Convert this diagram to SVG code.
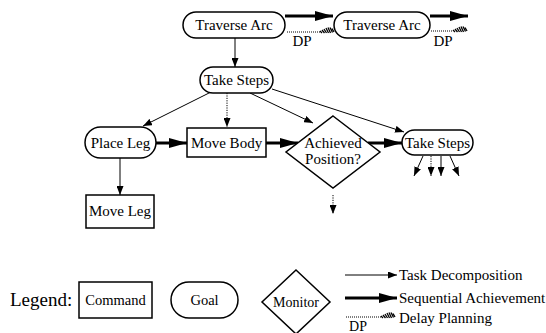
<svg xmlns="http://www.w3.org/2000/svg" width="546" height="333" viewBox="0 0 546 333">
<style>
.box{fill:#fff;stroke:#000;stroke-width:1.5}
.t{font-family:"Liberation Serif","Times New Roman",serif;font-size:15px;fill:#000;text-anchor:middle}
.ts{font-family:"Liberation Serif","Times New Roman",serif;font-size:15px;fill:#000}
.thin{stroke:#000;stroke-width:1;fill:none;marker-end:url(#ah)}
.dot{stroke:#000;stroke-width:1;fill:none;stroke-dasharray:1.2 1.2;marker-end:url(#ah)}
.thick{stroke:#000;stroke-width:3;fill:none;marker-end:url(#ahb)}
.dp{stroke:#000;stroke-width:1.2;fill:none;stroke-dasharray:1 1}
.hatch{stroke:#000;stroke-width:1.3;fill:none}
</style>
<defs>
<marker id="ah" markerUnits="userSpaceOnUse" markerWidth="9" markerHeight="7" refX="9" refY="3.5" orient="auto"><path d="M0,0 L9,3.5 L0,7 z" fill="#000"/></marker>
<marker id="ahb" markerUnits="userSpaceOnUse" markerWidth="18" markerHeight="10" refX="18" refY="5" orient="auto"><path d="M0,0 L18,5 L0,10 z" fill="#000"/></marker>
<g id="hat">
<path class="hatch" d="M0,-1 L2,1 M2,-2 L4.5,1 M4,-3 L6.5,1 M6,-4 L8.5,1 M8,-4.5 L10.5,1 M10,-4.5 L12.5,0.5 M12,-3.5 L14,0"/>
</g>
</defs>

<g id="connectors">
<line class="thick" x1="285" y1="16" x2="333" y2="16"/>
<line class="dp" x1="287" y1="32" x2="320" y2="32"/>
<use href="#hat" x="320" y="32"/>
<line class="thick" x1="430" y1="16" x2="468" y2="16"/>
<line class="dp" x1="431" y1="31" x2="453" y2="31"/>
<use href="#hat" x="453" y="31"/>
<line class="thin" x1="235" y1="38" x2="235" y2="67"/>
<line class="thin" x1="213" y1="91" x2="143" y2="126"/>
<line class="dot" x1="227" y1="93" x2="227" y2="127"/>
<line class="thin" x1="250" y1="93" x2="313" y2="123"/>
<line class="thin" x1="272" y1="89" x2="404" y2="132"/>
<line class="thick" x1="156" y1="143" x2="187" y2="143"/>
<line class="thick" x1="266" y1="143" x2="298" y2="143"/>
<line class="thick" x1="368" y1="143" x2="402" y2="143"/>
<line class="thin" x1="120" y1="158" x2="120" y2="195"/>
<line class="dot" x1="333" y1="195" x2="333" y2="214"/>
<line class="thin" x1="423" y1="156" x2="414" y2="176"/>
<line class="dot" x1="431" y1="156" x2="431" y2="176"/>
<line class="thin" x1="441" y1="156" x2="441" y2="176"/>
<line class="thin" x1="450" y1="156" x2="459" y2="176"/>
</g>
<text class="t" x="302" y="46">DP</text>
<text class="t" x="443" y="46">DP</text>

<g id="traverse1"><rect class="box" x="183" y="12" width="102" height="26" rx="13"/><text class="t" x="234" y="30">Traverse Arc</text></g>
<g id="traverse2"><rect class="box" x="334" y="12" width="96" height="26" rx="13"/><text class="t" x="382" y="30">Traverse Arc</text></g>
<g id="takesteps1"><rect class="box" x="200" y="67" width="73" height="26" rx="13"/><text class="t" x="236.5" y="85">Take Steps</text></g>
<g id="placeleg"><rect class="box" x="85" y="127" width="71" height="31" rx="15.5"/><text class="t" x="120.5" y="148">Place Leg</text></g>
<g id="movebody"><rect class="box" x="187" y="128" width="79" height="29"/><text class="t" x="226.5" y="148">Move Body</text></g>
<g id="achieved"><polygon class="box" points="333,116 380,152 333,188 286,152"/><text class="t" x="333" y="148">Achieved</text><text class="t" x="333" y="164">Position?</text></g>
<g id="takesteps2"><rect class="box" x="402" y="130" width="71" height="25" rx="12.5"/><text class="t" x="437.5" y="148">Take Steps</text></g>
<g id="moveleg"><rect class="box" x="86" y="195" width="68" height="33"/><text class="t" x="120" y="216">Move Leg</text></g>

<g id="legend">
<text x="10" y="306" style="font-family:'Liberation Serif','Times New Roman',serif;font-size:19px;fill:#000">Legend:</text>
<rect class="box" x="79" y="282" width="73" height="36"/><text class="t" style="font-size:14.5px" x="115.5" y="305">Command</text>
<rect class="box" x="171" y="282" width="67" height="36" rx="18"/><text class="t" style="font-size:14.5px" x="204.5" y="305">Goal</text>
<polygon class="box" points="296,270 330,302 296,334 262,302"/><text class="t" style="font-size:14px" x="296" y="307">Monitor</text>
<line class="thin" x1="345" y1="275" x2="397" y2="275"/>
<text class="ts" x="399" y="280">Task Decomposition</text>
<line class="thick" x1="345" y1="298" x2="397" y2="298"/>
<text class="ts" x="399" y="303">Sequential Achievement</text>
<line class="dp" x1="346" y1="317" x2="381" y2="317"/>
<use href="#hat" x="381" y="317"/>
<text class="t" style="font-size:14px" x="358" y="331">DP</text>
<text class="ts" x="399" y="323">Delay Planning</text>
</g>
</svg>
